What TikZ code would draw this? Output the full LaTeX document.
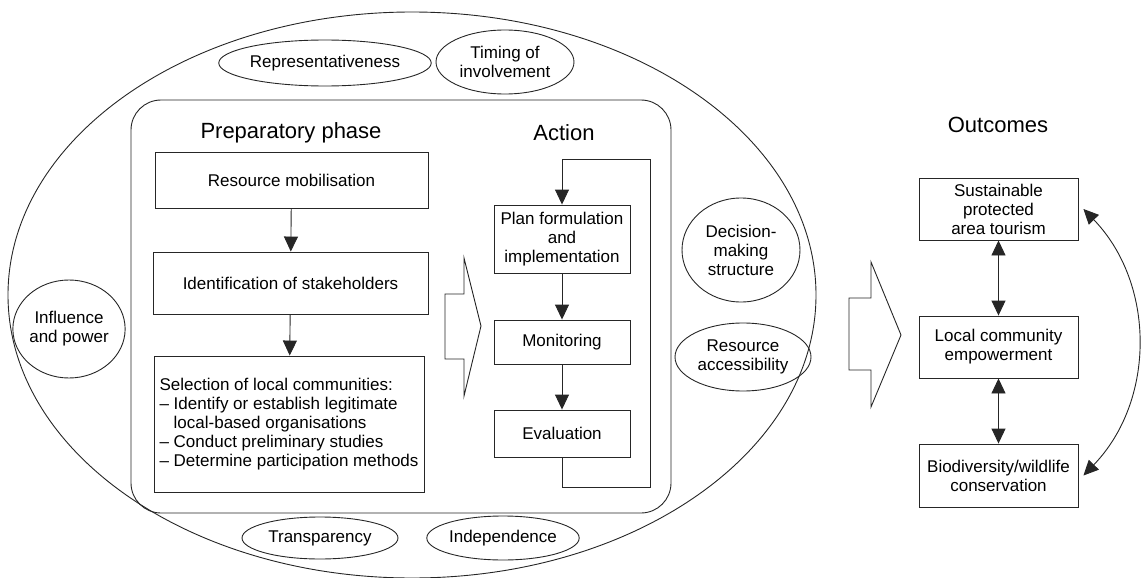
\documentclass[tikz,border=0pt]{standalone}
\usepackage{fontspec}
\setmainfont{Liberation Sans}
\usepackage{tikz}
\usetikzlibrary{arrows.meta,shapes.geometric}
\tikzset{
  link/.style={draw=black!85,line width=0.9pt},
  box/.style={link,rectangle,align=center,inner sep=2pt},
  oval/.style={link,ellipse,align=center,inner sep=0pt},
  title/.style={font=\fontsize{22}{26}\selectfont}
}

\begin{document}
\begin{tikzpicture}[x=1pt,y=-1pt,font=\fontsize{17}{19}\selectfont,>={Triangle[width=14pt,length=15pt]}]
\useasboundingbox (0,0) rectangle (1144,578);
\draw[link] (412,295) ellipse [x radius=404,y radius=283];
\draw[link,rounded corners=30] (131,100) rectangle (671,513);

\node[title] (prep) at (291,133) {Preparatory phase};
\node[title] (act) at (564,133) {Action};
\node[title] (out) at (998,125) {Outcomes};

\node[box,minimum width=273,minimum height=56] (mob) at (291.5,180) {Resource mobilisation};
\node[box,minimum width=275,minimum height=62] (ident) at (290.5,283) {Identification of stakeholders};
\node[box,align=left,minimum width=270,minimum height=136] (sel) at (289,424)
  {Selection of local communities:\\
   – Identify or establish legitimate\\
   \phantom{– }local-based organisations\\
   – Conduct preliminary studies\\
   – Determine participation methods};
\draw[link,->] (mob) -- (ident);
\draw[link,->] (ident) -- (sel);

\node[box,minimum width=136,minimum height=68] (plan) at (562,239) {Plan formulation\\and\\implementation};
\node[box,minimum width=136,minimum height=44] (mon) at (562,342) {Monitoring};
\node[box,minimum width=136,minimum height=47] (eval) at (562,433.5) {Evaluation};
\coordinate (lpb) at (650,487);
\coordinate (lpt) at (650,159);
\draw[link,->] (plan) -- (mon);
\draw[link,->] (mon) -- (eval);
\draw[link,->] (eval.south) |- (lpb) -- (lpt) -| (plan.north);

\draw[link,fill=white] (445,294) -- (464,294) -- (464,258) -- (481,326) -- (464,396) -- (464,359) -- (445,359) -- cycle;
\draw[link,fill=white] (849,298) -- (871,298) -- (871,262) -- (901,335) -- (871,407) -- (871,370) -- (849,370) -- cycle;

\node[oval,minimum width=211,minimum height=46] (rep) at (325,63) {Representativeness};
\node[oval,minimum width=138,minimum height=64] (tim) at (505,62) {Timing of\\involvement};
\node[oval,minimum width=118,minimum height=104] (dec) at (741,250) {Decision-\\making\\structure};
\node[oval,minimum width=136,minimum height=68] (acc) at (743,357) {Resource\\accessibility};
\node[oval,minimum width=112,minimum height=98] (inf) at (69,329) {Influence\\and power};
\node[oval,minimum width=156,minimum height=42] (tra) at (320,538) {Transparency};
\node[oval,minimum width=152,minimum height=44] (ind) at (503,538) {Independence};

\node[box,minimum width=159,minimum height=62] (sust) at (998.5,209) {Sustainable\\protected\\area tourism};
\node[box,minimum width=159,minimum height=62] (emp) at (998.5,347) {Local community\\empowerment};
\node[box,minimum width=159,minimum height=63] (bio) at (998.5,475.5) {Biodiversity/wildlife\\conservation};
\draw[link,<->] (sust) -- (emp);
\draw[link,<->] (emp) -- (bio);
\draw[link,<->] ([xshift=5pt]sust.east) to[bend left=44] ([xshift=5pt]bio.east);
\end{tikzpicture}
\end{document}
